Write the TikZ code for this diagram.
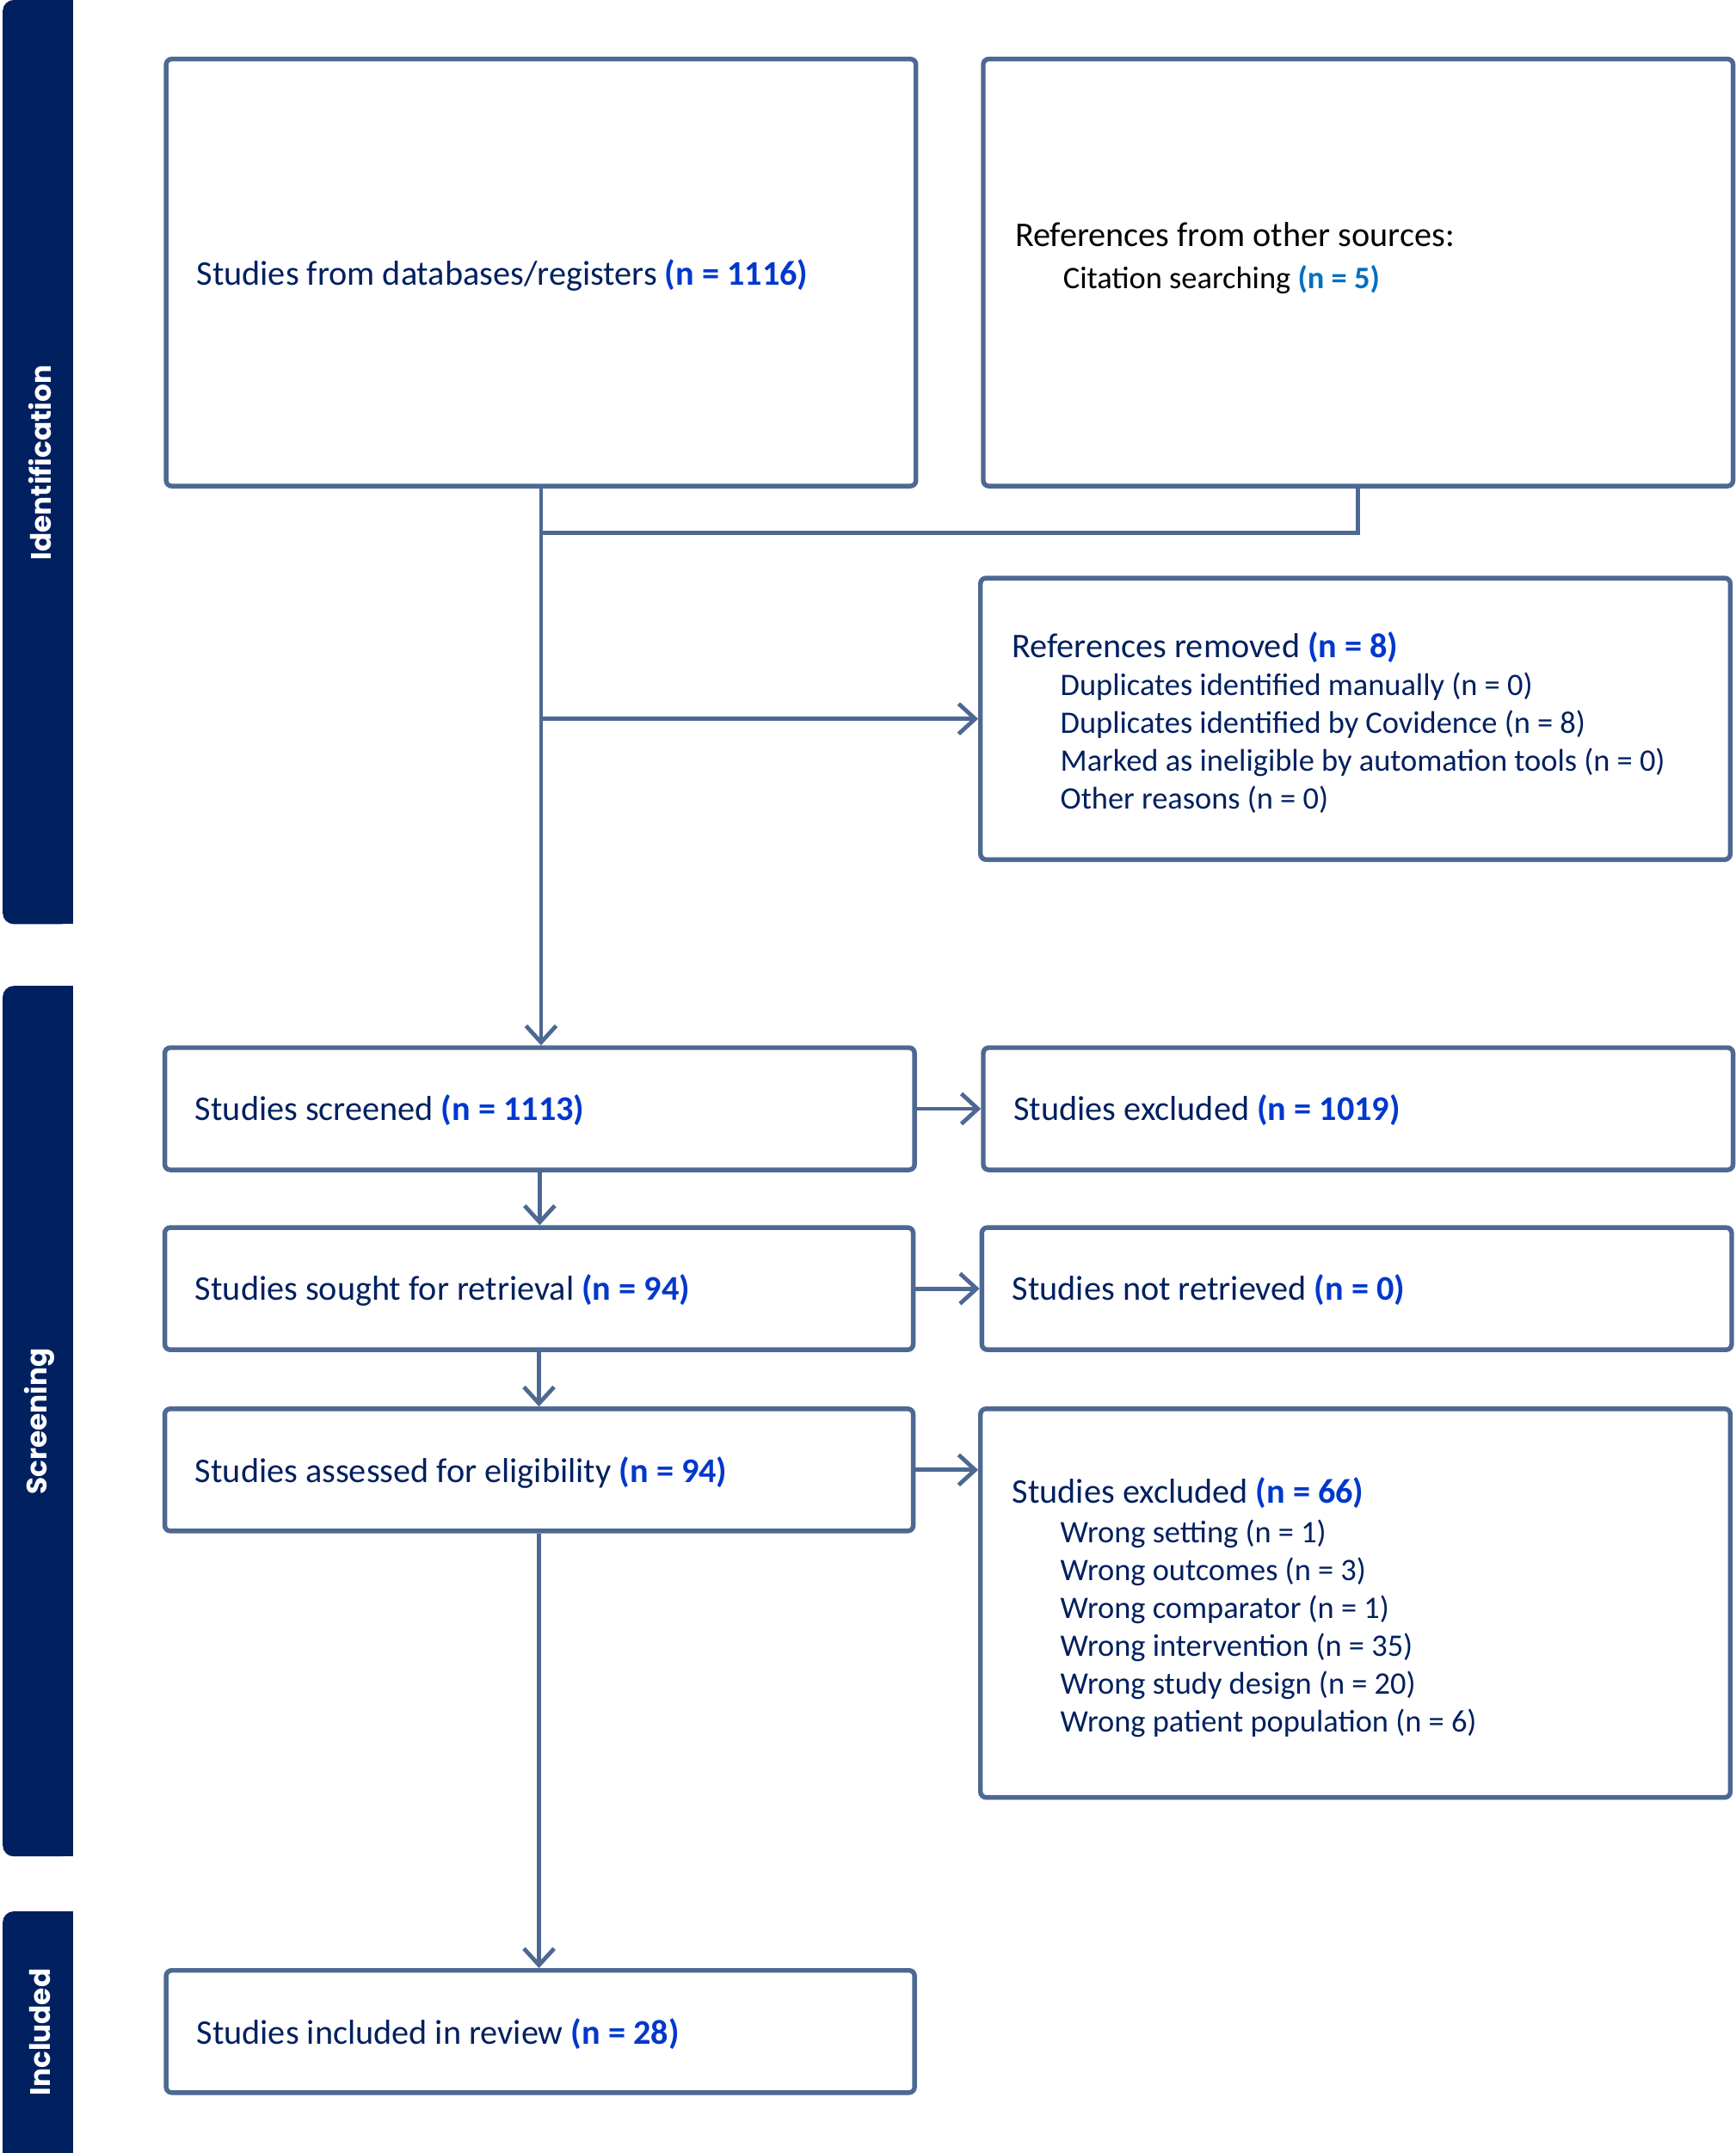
\documentclass[tikz,border=0pt]{standalone}
\usepackage{fontspec}
\setmainfont{Carlito}
\newfontfamily\barfont{Poppins}
\usetikzlibrary{arrows.meta}
\definecolor{navy}{RGB}{0,32,96}
\definecolor{txt}{RGB}{0,32,96}
\definecolor{num}{HTML}{0038CC}
\definecolor{numb}{HTML}{0070C0}
\definecolor{edge}{HTML}{4D6892}
\newcommand{\nn}[1]{\textcolor{num}{\textbf{#1}}}
\newcommand{\myitem}[1]{\hspace*{35pt}{\fontsize{22.8}{27.6}\selectfont #1}}
\begin{document}
\begin{tikzpicture}[x=1pt,y=-1pt,
  box/.style={draw=edge,line width=3.4pt,rounded corners=4pt,inner sep=0pt,fill=white},
  lbl/.style={anchor=west,inner sep=0pt,text=txt,align=left,font=\fontsize{25.2}{27.6}\selectfont},
  conn/.style={draw=edge,line width=3pt},
  arr/.style={conn,-{Straight Barb[length=12pt,width=22pt]}},
  bar/.style={fill=navy},
  bartext/.style={rotate=90,text=white,inner sep=0pt,font=\barfont\bfseries\fontsize{20.5}{24}\selectfont}]
\useasboundingbox (0,0) rectangle (1264,1568);
\fill[white] (0,0) rectangle (1264,1568);

% side bars
\fill[bar,rounded corners=8pt] (2,0) rectangle (53,673);
\fill[bar] (30,0) rectangle (53,673);
\fill[bar,rounded corners=8pt] (2,718) rectangle (53,1352);
\fill[bar] (30,718) rectangle (53,1352);
\fill[bar,rounded corners=8pt] (2,1392) rectangle (53,1600);
\fill[bar] (30,1392) rectangle (53,1568);
\fill[bar] (2,1500) rectangle (53,1568);
\node[bartext] (sId) at (29,337) {Identification};
\node[bartext] (sSc) at (29,1035) {Screening};
\node[bartext] (sIn) at (29,1480) {Included};

% boxes
\node[box,minimum width=546pt,minimum height=311pt] (A) at (394,198.5) {};
\node[box,minimum width=546pt,minimum height=311pt] (B) at (989,198.5) {};
\node[box,minimum width=546pt,minimum height=205pt] (C) at (987,523.5) {};
\node[box,minimum width=546pt,minimum height=89pt] (D) at (393,807.5) {};
\node[box,minimum width=546pt,minimum height=89pt] (E) at (989,807.5) {};
\node[box,minimum width=545pt,minimum height=89pt] (F) at (392.5,938.5) {};
\node[box,minimum width=546pt,minimum height=89pt] (G) at (988,938.5) {};
\node[box,minimum width=545pt,minimum height=89pt] (H) at (392.5,1070.5) {};
\node[box,minimum width=546pt,minimum height=283pt] (I) at (987,1167.5) {};
\node[box,minimum width=545pt,minimum height=89pt] (J) at (393.5,1479.5) {};

% texts
\node[lbl] (tA) at (143,200.5) {Studies from databases/registers \nn{(n = 1116)}};
\node[lbl,text=black] (tB) at (739,188) {References from other sources:\\[3.4pt]
\myitem{Citation searching \textcolor{numb}{\textbf{(n = 5)}}}};
\node[lbl] (tC) at (737,526.5) {References removed \nn{(n = 8)}\\
\myitem{Duplicates identified manually (n = 0)}\\
\myitem{Duplicates identified by Covidence (n = 8)}\\
\myitem{Marked as ineligible by automation tools (n = 0)}\\
\myitem{Other reasons (n = 0)}};
\node[lbl] (tD) at (142,808.5) {Studies screened \nn{(n = 1113)}};
\node[lbl] (tE) at (738,808.5) {Studies excluded \nn{(n = 1019)}};
\node[lbl] (tF) at (142,939.5) {Studies sought for retrieval \nn{(n = 94)}};
\node[lbl] (tG) at (737,939.5) {Studies not retrieved \nn{(n = 0)}};
\node[lbl] (tH) at (142,1072.5) {Studies assessed for eligibility \nn{(n = 94)}};
\node[lbl] (tI) at (737,1170.5) {Studies excluded \nn{(n = 66)}\\[1.4pt]
\myitem{Wrong setting (n = 1)}\\
\myitem{Wrong outcomes (n = 3)}\\
\myitem{Wrong comparator (n = 1)}\\
\myitem{Wrong intervention (n = 35)}\\
\myitem{Wrong study design (n = 20)}\\
\myitem{Wrong patient population (n = 6)}};
\node[lbl] (tJ) at (143,1481.5) {Studies included in review \nn{(n = 28)}};

% connectors
\coordinate (j1) at (394,388);
\coordinate (j2) at (394,523.5);
\draw[conn] (B.south) |- (j1);
\draw[arr] (A.south) -- (A.south |- D.north);
\draw[arr] (j2) -- (C.west);
\draw[arr] (D.east) -- (E.west);
\draw[arr] (D.south) -- (D.south |- F.north);
\draw[arr] (F.east) -- (G.west);
\draw[arr] (F.south) -- (F.south |- H.north);
\draw[arr] (H.east) -- (H.east -| I.west);
\draw[arr] (H.south) -- (H.south |- J.north);
\end{tikzpicture}
\end{document}
